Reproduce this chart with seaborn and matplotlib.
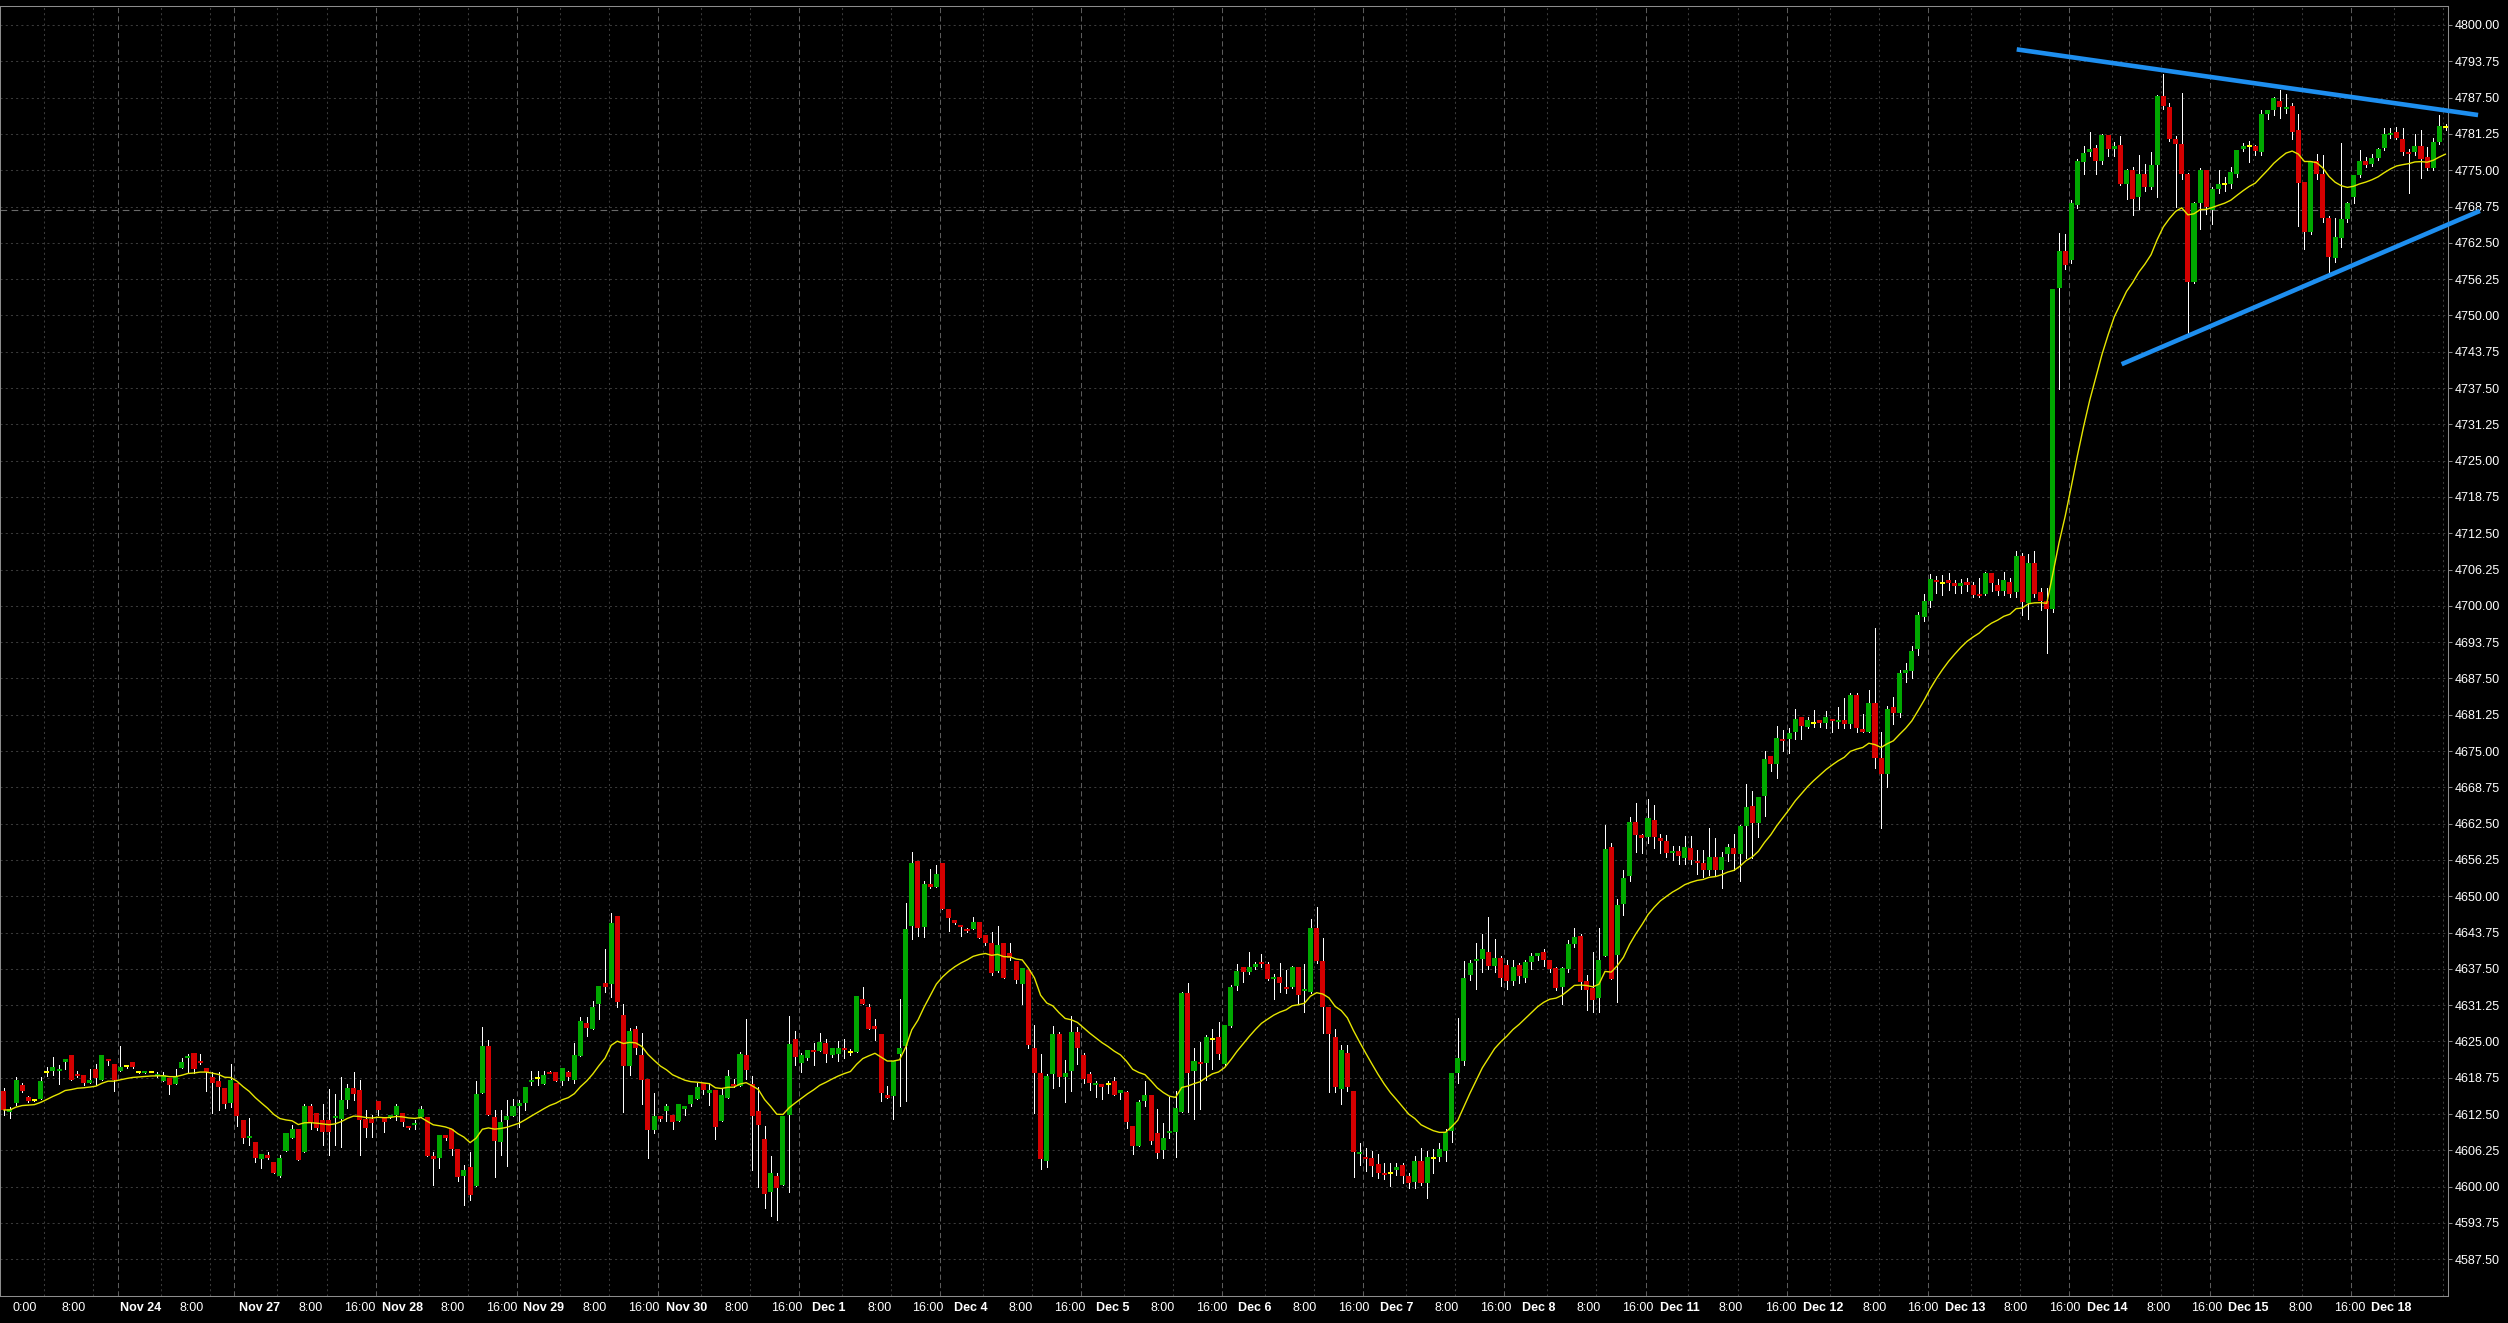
import numpy as np
import pandas as pd
import matplotlib
matplotlib.use("Agg")
import matplotlib.pyplot as plt
import seaborn as sns

# hourly candles (oldest first)
opens = [
    4616.5, 4612.8, 4614.4, 4617.5, 4615.4, 4614.9, 4615.1, 4619.75, 4619.9, 4619.9,
    4621.5, 4622.6, 4619.35, 4619.2, 4617.9, 4620.3, 4618.3, 4621.9, 4621.1, 4619.9,
    4620.7, 4621.4, 4619.75, 4619.7, 4619.75, 4619.0, 4618.2, 4618.7, 4617.7, 4620.4,
    4622.15, 4622.95, 4621.6, 4620.4, 4618.8, 4618.2, 4617.0, 4614.4, 4617.8, 4611.5,
    4608.3, 4607.7, 4604.7, 4605.5, 4604.25, 4601.9, 4606.15, 4608.4, 4609.9, 4606.0,
    4613.9, 4612.7, 4611.5, 4611.5, 4611.8, 4611.6, 4614.9, 4616.95, 4616.6, 4611.6,
    4611.6, 4614.7, 4612.0, 4612.0, 4612.3, 4612.7, 4610.4, 4610.6, 4612.0, 4612.0,
    4605.2, 4605.0, 4608.9, 4609.9, 4606.5, 4601.9, 4603.4, 4600.1, 4616.15, 4624.2,
    4612.0, 4607.75, 4611.5, 4612.2, 4613.9, 4614.4, 4618.05, 4618.7, 4617.7, 4619.75,
    4619.75, 4618.2, 4619.75, 4618.45, 4622.5, 4628.1, 4627.1, 4631.4, 4635.0, 4634.85,
    4646.6, 4629.5, 4620.8, 4627.1, 4622.6, 4618.5, 4609.7, 4612.1, 4613.0, 4612.4,
    4611.3, 4613.3, 4614.3, 4615.1, 4617.9, 4616.1, 4616.6, 4611.3, 4615.25, 4617.7,
    4617.3, 4622.6, 4617.7, 4613.0, 4608.2, 4599.05, 4601.9, 4600.3, 4612.3, 4625.4,
    4621.35, 4622.1, 4623.5, 4623.35, 4624.8, 4622.7, 4622.8, 4623.8, 4623.2, 4623.2,
    4632.3, 4630.95, 4627.6, 4626.25, 4615.7, 4615.6, 4622.8, 4624.3, 4644.9, 4656.05,
    4644.7, 4652.0, 4651.6, 4655.7, 4647.8, 4645.9, 4645.0, 4644.3, 4644.3, 4645.5,
    4643.3, 4642.0, 4637.1, 4641.9, 4640.3, 4638.9, 4634.9, 4637.3, 4623.9, 4619.6,
    4604.5, 4619.35, 4626.3, 4618.9, 4619.9, 4626.6, 4622.6, 4619.35, 4617.7, 4617.75,
    4617.7, 4618.25, 4616.1, 4616.25, 4610.5, 4607.0, 4614.7, 4615.8, 4609.2, 4606.3,
    4609.2, 4609.5, 4612.8, 4633.4, 4620.0, 4621.55, 4621.3, 4625.5, 4625.7, 4621.2,
    4627.7, 4634.6, 4637.8, 4636.9, 4637.8, 4638.75, 4638.4, 4635.7, 4636.1, 4634.4,
    4634.4, 4637.8, 4633.7, 4633.6, 4644.5, 4638.9, 4630.95, 4625.7, 4616.8, 4623.0,
    4616.5, 4605.6, 4605.1, 4605.0, 4603.95, 4602.3, 4602.3, 4602.9, 4603.8, 4601.8,
    4600.8, 4604.5, 4600.55, 4605.0, 4605.1, 4606.15, 4609.6, 4619.6, 4621.7, 4636.4,
    4638.8, 4639.15, 4640.35, 4638.0, 4639.3, 4638.1, 4635.4, 4638.1, 4635.9, 4638.7,
    4639.8, 4640.35, 4639.0, 4637.6, 4634.3, 4637.4, 4641.7, 4643.1, 4635.4, 4634.2,
    4632.5, 4639.7, 4658.4, 4639.9, 4648.75, 4653.5, 4662.8, 4660.5, 4660.25, 4663.2,
    4660.0, 4659.5, 4657.5, 4657.8, 4656.6, 4658.35, 4656.0, 4655.75, 4654.5, 4656.8,
    4654.5, 4657.2, 4658.3, 4657.2, 4662.1, 4665.5, 4662.65, 4667.25, 4674.1, 4672.8,
    4677.1, 4677.0, 4678.2, 4680.85, 4679.2, 4679.8, 4680.3, 4679.9, 4680.5, 4680.0,
    4680.3, 4679.7, 4684.65, 4678.8, 4678.35, 4683.3, 4673.85, 4671.1, 4682.6, 4681.6,
    4688.4, 4688.7, 4692.5, 4698.1, 4700.8, 4704.4, 4703.9, 4704.4, 4703.9, 4703.5,
    4704.05, 4703.55, 4702.05, 4702.1, 4705.6, 4703.55, 4702.6, 4704.05, 4702.3, 4708.5,
    4700.45, 4707.3, 4702.4, 4700.8, 4699.4, 4754.7, 4761.1, 4759.6, 4769.0, 4776.45,
    4778.1, 4778.75, 4776.5, 4781.05, 4778.7, 4779.3, 4772.7, 4775.0, 4770.4, 4774.4,
    4772.1, 4775.85, 4787.7, 4785.8, 4780.45, 4779.5, 4774.3, 4755.8, 4769.3, 4775.0,
    4768.2, 4771.7, 4772.7, 4772.6, 4774.4, 4778.7, 4779.2, 4779.1, 4778.15, 4784.6,
    4785.4, 4787.0, 4785.5, 4786.0, 4781.9, 4772.9, 4764.4, 4776.55, 4774.3, 4766.8,
    4759.9, 4763.4, 4766.6, 4770.4, 4774.1, 4776.55, 4776.15, 4777.1, 4778.8, 4781.0,
    4781.6, 4780.3, 4778.2, 4778.1, 4779.1, 4777.3, 4775.45, 4779.9, 4782.45,
]
highs = [
    4617.0, 4613.75, 4618.8, 4617.9, 4615.6, 4615.1, 4618.8, 4620.6, 4622.4, 4620.9,
    4621.9, 4622.6, 4619.9, 4619.2, 4620.3, 4621.2, 4622.6, 4621.9, 4621.1, 4624.2,
    4620.9, 4621.4, 4619.9, 4619.9, 4619.8, 4619.75, 4619.75, 4618.7, 4620.3, 4622.2,
    4622.9, 4622.95, 4622.9, 4620.4, 4619.75, 4619.75, 4617.0, 4621.1, 4617.8, 4611.5,
    4611.9, 4607.7, 4605.6, 4606.0, 4604.25, 4605.5, 4609.2, 4610.6, 4609.9, 4614.2,
    4614.2, 4612.7, 4614.3, 4616.9, 4616.0, 4618.8, 4617.6, 4619.75, 4618.3, 4613.2,
    4612.3, 4614.7, 4612.0, 4612.3, 4614.2, 4612.7, 4610.4, 4611.5, 4613.9, 4612.0,
    4606.0, 4608.9, 4608.9, 4609.9, 4606.5, 4603.7, 4606.0, 4618.2, 4627.5, 4625.2,
    4613.2, 4613.2, 4614.9, 4615.1, 4615.0, 4617.1, 4619.9, 4619.9, 4619.9, 4620.0,
    4619.75, 4620.4, 4619.9, 4624.7, 4629.2, 4629.2, 4632.0, 4634.5, 4640.9, 4647.1,
    4646.6, 4631.4, 4627.3, 4627.7, 4626.5, 4618.5, 4616.05, 4612.1, 4614.2, 4612.4,
    4614.3, 4613.9, 4615.7, 4617.9, 4617.9, 4617.9, 4616.6, 4617.0, 4620.1, 4618.5,
    4623.2, 4628.9, 4619.05, 4617.15, 4610.4, 4605.3, 4602.3, 4612.1, 4629.4, 4626.75,
    4623.1, 4623.5, 4624.8, 4626.5, 4625.4, 4623.9, 4625.1, 4625.4, 4623.7, 4632.8,
    4634.3, 4631.4, 4628.9, 4626.25, 4617.3, 4621.6, 4632.3, 4648.9, 4657.55, 4656.05,
    4652.7, 4654.7, 4655.3, 4655.7, 4647.8, 4645.9, 4645.0, 4644.5, 4646.4, 4645.5,
    4643.3, 4643.8, 4644.8, 4641.9, 4641.9, 4638.9, 4637.6, 4637.3, 4627.8, 4622.9,
    4619.4, 4627.7, 4626.6, 4621.8, 4629.4, 4627.5, 4623.0, 4619.7, 4618.25, 4617.75,
    4618.25, 4618.8, 4616.7, 4616.5, 4610.5, 4615.0, 4618.25, 4615.8, 4613.3, 4611.05,
    4615.4, 4616.5, 4633.6, 4635.1, 4623.9, 4624.9, 4626.1, 4627.2, 4628.4, 4627.8,
    4634.7, 4638.3, 4637.8, 4640.4, 4638.6, 4640.1, 4638.6, 4636.7, 4638.45, 4637.3,
    4638.0, 4637.9, 4638.3, 4646.1, 4648.2, 4642.9, 4631.0, 4627.2, 4624.4, 4624.4,
    4616.5, 4607.45, 4606.6, 4606.15, 4605.6, 4604.1, 4604.1, 4604.1, 4604.1, 4602.4,
    4605.3, 4606.7, 4606.15, 4606.45, 4607.6, 4609.9, 4619.5, 4629.05, 4638.85, 4639.1,
    4641.95, 4643.5, 4646.5, 4642.6, 4639.7, 4639.1, 4639.1, 4638.5, 4639.0, 4640.25,
    4640.3, 4640.9, 4639.0, 4637.8, 4637.9, 4642.5, 4644.5, 4643.5, 4636.5, 4640.35,
    4644.6, 4662.3, 4659.1, 4649.6, 4654.5, 4663.6, 4666.0, 4660.8, 4666.7, 4665.7,
    4660.8, 4660.5, 4658.6, 4658.6, 4660.3, 4660.35, 4658.05, 4658.05, 4661.8, 4660.05,
    4657.65, 4659.0, 4660.75, 4662.35, 4669.4, 4668.1, 4667.1, 4675.0, 4674.1, 4679.3,
    4678.55, 4678.9, 4682.3, 4680.85, 4680.85, 4682.0, 4680.3, 4681.9, 4680.5, 4682.6,
    4684.2, 4685.0, 4685.0, 4681.4, 4685.5, 4696.1, 4678.3, 4682.75, 4684.3, 4689.0,
    4690.2, 4693.1, 4698.9, 4702.0, 4705.5, 4705.1, 4705.35, 4705.6, 4704.4, 4704.6,
    4704.8, 4704.05, 4704.8, 4705.85, 4705.6, 4704.6, 4705.85, 4704.8, 4709.5, 4709.1,
    4708.95, 4709.5, 4703.0, 4703.0, 4754.5, 4764.25, 4764.0, 4769.8, 4776.9, 4779.2,
    4781.5, 4779.3, 4781.2, 4781.05, 4779.9, 4780.85, 4775.2, 4775.6, 4777.6, 4776.15,
    4778.15, 4787.9, 4791.6, 4786.5, 4780.9, 4788.3, 4774.5, 4769.5, 4775.45, 4775.0,
    4772.1, 4775.0, 4773.85, 4775.6, 4778.55, 4779.6, 4780.0, 4779.3, 4785.3, 4785.4,
    4787.6, 4788.75, 4788.1, 4786.5, 4784.75, 4772.9, 4776.55, 4777.75, 4777.6, 4767.2,
    4766.7, 4779.6, 4769.6, 4774.1, 4778.4, 4777.3, 4777.75, 4778.8, 4782.2, 4782.2,
    4782.45, 4782.2, 4778.7, 4781.3, 4782.0, 4779.0, 4780.6, 4784.5, 4783.0,
]
lows = [
    4612.3, 4611.9, 4614.0, 4616.3, 4614.6, 4614.7, 4615.1, 4619.0, 4619.2, 4617.6,
    4620.3, 4618.3, 4618.8, 4617.5, 4617.9, 4617.5, 4618.3, 4620.9, 4616.5, 4619.9,
    4620.5, 4620.5, 4619.6, 4619.6, 4619.7, 4618.8, 4618.2, 4615.9, 4617.7, 4620.4,
    4619.5, 4619.5, 4621.2, 4616.5, 4612.6, 4613.2, 4613.6, 4613.75, 4610.5, 4607.6,
    4607.2, 4604.3, 4603.2, 4604.8, 4602.4, 4601.6, 4606.15, 4608.4, 4604.6, 4606.0,
    4609.9, 4609.75, 4607.2, 4605.5, 4607.2, 4606.9, 4613.6, 4614.9, 4605.5, 4608.6,
    4608.6, 4612.3, 4609.5, 4611.8, 4611.5, 4610.4, 4610.0, 4610.0, 4612.0, 4605.2,
    4600.3, 4603.3, 4608.0, 4605.5, 4600.9, 4596.8, 4597.7, 4600.1, 4616.15, 4612.3,
    4601.7, 4605.4, 4603.6, 4612.2, 4610.3, 4613.2, 4617.5, 4617.5, 4617.7, 4619.5,
    4618.2, 4617.5, 4618.4, 4617.9, 4622.5, 4625.9, 4627.1, 4628.9, 4633.5, 4632.7,
    4631.0, 4612.8, 4619.2, 4622.9, 4614.2, 4605.0, 4609.3, 4611.3, 4611.3, 4610.0,
    4611.3, 4612.3, 4613.9, 4615.1, 4615.9, 4614.0, 4608.2, 4611.3, 4615.25, 4617.2,
    4617.3, 4618.5, 4602.8, 4599.9, 4596.4, 4594.9, 4594.3, 4600.3, 4599.0, 4620.9,
    4619.8, 4621.8, 4620.9, 4623.35, 4621.5, 4622.4, 4621.6, 4622.2, 4622.7, 4623.2,
    4631.4, 4627.1, 4625.25, 4614.7, 4615.25, 4611.7, 4613.9, 4614.7, 4642.7, 4643.2,
    4643.0, 4651.5, 4651.6, 4647.8, 4644.05, 4645.2, 4643.2, 4643.8, 4644.3, 4642.8,
    4641.6, 4636.5, 4636.9, 4635.9, 4639.0, 4635.0, 4631.4, 4623.9, 4612.7, 4603.1,
    4603.4, 4617.05, 4617.3, 4614.6, 4616.5, 4621.1, 4617.9, 4616.65, 4615.4, 4615.1,
    4616.1, 4615.7, 4615.1, 4610.1, 4605.6, 4607.0, 4613.9, 4607.3, 4605.0, 4604.9,
    4608.45, 4605.1, 4612.8, 4612.8, 4611.6, 4613.4, 4618.3, 4620.2, 4622.0, 4620.8,
    4627.5, 4633.8, 4635.3, 4636.6, 4637.5, 4637.8, 4635.5, 4632.3, 4633.6, 4633.4,
    4634.2, 4631.4, 4630.0, 4633.4, 4638.5, 4626.5, 4616.25, 4616.25, 4614.2, 4616.5,
    4601.6, 4603.8, 4602.7, 4601.8, 4601.5, 4601.25, 4600.1, 4602.0, 4600.7, 4599.8,
    4599.8, 4600.3, 4598.1, 4602.4, 4604.4, 4604.4, 4607.7, 4617.85, 4620.9, 4635.5,
    4634.0, 4636.9, 4637.4, 4636.9, 4634.6, 4634.1, 4634.8, 4635.1, 4635.2, 4637.5,
    4639.0, 4638.0, 4636.9, 4633.8, 4631.4, 4636.9, 4641.3, 4634.05, 4630.4, 4630.0,
    4630.0, 4639.7, 4635.8, 4631.8, 4646.8, 4652.7, 4657.7, 4657.4, 4659.1, 4658.35,
    4657.4, 4656.8, 4656.2, 4655.6, 4655.5, 4655.6, 4653.85, 4653.35, 4653.7, 4653.7,
    4651.45, 4656.0, 4654.6, 4652.7, 4656.6, 4656.6, 4660.25, 4663.8, 4671.55, 4670.4,
    4675.0, 4674.7, 4677.0, 4677.0, 4678.9, 4679.1, 4679.1, 4679.0, 4678.2, 4679.0,
    4678.9, 4679.0, 4678.2, 4678.2, 4678.35, 4672.1, 4661.7, 4668.85, 4679.6, 4680.9,
    4686.9, 4687.6, 4691.5, 4697.4, 4699.75, 4702.25, 4701.9, 4702.75, 4702.25, 4702.25,
    4702.6, 4701.5, 4701.5, 4701.9, 4702.6, 4701.9, 4701.9, 4701.5, 4701.5, 4698.4,
    4697.7, 4701.5, 4699.2, 4691.8, 4699.0, 4737.4, 4758.0, 4759.0, 4768.5, 4774.4,
    4777.45, 4774.4, 4776.0, 4777.45, 4777.45, 4772.5, 4770.1, 4767.25, 4768.4, 4771.5,
    4771.8, 4770.4, 4785.5, 4780.0, 4768.7, 4773.5, 4746.8, 4755.5, 4764.8, 4767.5,
    4765.8, 4771.0, 4771.5, 4772.0, 4773.8, 4778.3, 4776.4, 4777.6, 4777.6, 4783.9,
    4784.5, 4784.05, 4784.9, 4780.45, 4765.4, 4761.5, 4764.1, 4773.5, 4766.1, 4757.5,
    4759.2, 4761.8, 4766.1, 4769.4, 4773.8, 4775.5, 4775.8, 4776.8, 4778.5, 4780.6,
    4780.3, 4777.6, 4771.0, 4777.7, 4773.7, 4775.0, 4775.0, 4779.5, 4782.0,
]
closes = [
    4613.2, 4613.35, 4618.3, 4616.5, 4614.8, 4614.9, 4618.2, 4619.75, 4620.55, 4620.3,
    4621.9, 4618.3, 4619.1, 4617.8, 4618.3, 4618.7, 4622.6, 4621.6, 4618.3, 4620.55,
    4620.7, 4620.55, 4619.75, 4619.85, 4619.75, 4619.35, 4619.2, 4617.5, 4618.9, 4621.5,
    4622.4, 4620.3, 4621.3, 4619.7, 4617.8, 4617.2, 4614.3, 4618.3, 4612.2, 4608.3,
    4608.7, 4605.0, 4605.6, 4605.0, 4602.4, 4604.95, 4609.2, 4609.9, 4604.6, 4613.9,
    4611.2, 4610.1, 4609.5, 4609.5, 4612.15, 4614.9, 4616.95, 4616.0, 4611.5, 4610.15,
    4611.0, 4613.2, 4611.1, 4612.3, 4613.9, 4611.2, 4610.15, 4611.0, 4613.35, 4605.2,
    4604.8, 4608.9, 4608.3, 4606.55, 4601.6, 4602.9, 4598.5, 4615.9, 4624.3, 4612.3,
    4607.9, 4611.1, 4612.15, 4613.9, 4614.4, 4617.1, 4618.3, 4618.7, 4619.2, 4619.5,
    4618.2, 4620.4, 4618.8, 4622.6, 4628.6, 4627.4, 4630.85, 4634.5, 4634.4, 4645.4,
    4631.8, 4620.8, 4626.75, 4623.9, 4618.35, 4609.7, 4612.1, 4611.6, 4613.9, 4611.1,
    4614.3, 4613.9, 4615.7, 4617.15, 4616.6, 4616.6, 4610.3, 4615.7, 4619.05, 4617.4,
    4622.8, 4620.1, 4612.15, 4610.7, 4598.7, 4602.4, 4599.8, 4612.1, 4624.5, 4622.3,
    4622.6, 4623.5, 4623.2, 4624.95, 4622.8, 4623.9, 4623.9, 4623.55, 4623.2, 4632.8,
    4631.4, 4627.1, 4627.1, 4616.05, 4615.25, 4621.6, 4623.9, 4644.3, 4655.7, 4644.45,
    4652.1, 4651.7, 4653.8, 4647.8, 4646.2, 4645.4, 4644.7, 4644.05, 4645.5, 4642.8,
    4642.0, 4636.75, 4641.6, 4635.9, 4639.3, 4635.6, 4637.6, 4624.4, 4619.6, 4604.7,
    4619.0, 4626.3, 4618.9, 4619.5, 4626.6, 4623.9, 4618.55, 4617.8, 4617.75, 4617.1,
    4617.7, 4615.8, 4616.7, 4611.15, 4607.0, 4614.5, 4615.8, 4607.9, 4605.75, 4608.45,
    4609.55, 4613.5, 4633.3, 4619.6, 4621.7, 4621.15, 4625.7, 4625.5, 4622.8, 4627.8,
    4634.4, 4637.1, 4636.9, 4637.9, 4638.4, 4638.3, 4635.7, 4636.1, 4635.05, 4634.1,
    4637.8, 4633.0, 4634.1, 4644.5, 4638.9, 4630.95, 4626.3, 4617.1, 4623.5, 4617.1,
    4606.0, 4606.05, 4604.9, 4603.6, 4602.3, 4601.95, 4602.3, 4603.45, 4601.8, 4600.55,
    4604.5, 4600.55, 4605.1, 4605.0, 4606.55, 4609.45, 4619.5, 4622.1, 4635.95, 4638.45,
    4639.1, 4640.9, 4638.0, 4639.3, 4635.9, 4635.4, 4637.9, 4636.3, 4638.6, 4639.8,
    4640.3, 4639.0, 4637.4, 4634.2, 4637.6, 4641.7, 4642.95, 4635.25, 4633.9, 4632.2,
    4639.1, 4658.1, 4635.8, 4648.5, 4653.2, 4662.8, 4660.5, 4660.1, 4663.4, 4660.2,
    4659.5, 4657.5, 4657.8, 4657.0, 4658.45, 4656.3, 4655.75, 4654.5, 4656.8, 4654.5,
    4656.8, 4658.5, 4657.2, 4662.1, 4665.35, 4662.65, 4667.1, 4673.7, 4672.8, 4677.3,
    4676.85, 4678.1, 4680.5, 4679.3, 4680.3, 4679.8, 4679.9, 4680.8, 4680.1, 4680.3,
    4679.7, 4684.65, 4678.9, 4678.35, 4683.3, 4673.85, 4671.0, 4682.3, 4681.6, 4688.4,
    4688.9, 4692.2, 4698.4, 4700.8, 4704.6, 4704.05, 4703.9, 4704.0, 4703.5, 4703.9,
    4703.6, 4701.9, 4701.75, 4705.6, 4703.9, 4702.5, 4704.4, 4702.1, 4708.5, 4700.6,
    4707.3, 4702.1, 4700.8, 4699.4, 4754.5, 4761.1, 4758.65, 4769.3, 4776.5, 4778.0,
    4778.6, 4776.5, 4781.05, 4778.7, 4779.2, 4772.7, 4775.0, 4770.1, 4774.4, 4772.1,
    4775.85, 4787.7, 4786.0, 4780.45, 4779.5, 4774.4, 4755.8, 4769.3, 4775.0, 4768.7,
    4771.7, 4772.6, 4772.7, 4774.7, 4778.55, 4779.1, 4779.2, 4778.3, 4784.6, 4785.4,
    4787.4, 4785.9, 4785.9, 4781.6, 4772.8, 4764.4, 4776.55, 4774.3, 4766.8, 4760.0,
    4763.5, 4766.6, 4769.3, 4774.1, 4776.55, 4775.9, 4777.1, 4778.7, 4781.3, 4781.3,
    4780.6, 4778.1, 4777.8, 4779.25, 4777.0, 4775.45, 4779.9, 4782.6, 4782.45,
]

# first bar of each trading day (bar index)
day_starts = [0, 19, 38, 61, 84, 107, 130, 153, 176, 199, 222, 245, 268, 291, 314, 337, 360, 383]

time_labels = [
    "0:00", "8:00", "Nov 24", "8:00", "Nov 27", "8:00", "16:00", "Nov 28", "8:00", "16:00",
    "Nov 29", "8:00", "16:00", "Nov 30", "8:00", "16:00", "Dec 1", "8:00", "16:00", "Dec 4",
    "8:00", "16:00", "Dec 5", "8:00", "16:00", "Dec 6", "8:00", "16:00", "Dec 7", "8:00",
    "16:00", "Dec 8", "8:00", "16:00", "Dec 11", "8:00", "16:00", "Dec 12", "8:00", "16:00",
    "Dec 13", "8:00", "16:00", "Dec 14", "8:00", "16:00", "Dec 15", "8:00", "16:00", "Dec 18",
]
label_pos = [
    1.4, 9.4, 19.0, 28.7, 38.4, 48.0, 55.5, 61.6, 71.2, 78.6,
    84.7, 94.4, 101.8, 107.9, 117.5, 125.0, 131.8, 140.7, 148.0, 154.9,
    163.8, 171.2, 178.0, 186.9, 194.3, 201.1, 210.0, 217.5, 224.3, 233.2,
    240.7, 247.5, 256.3, 263.8, 270.0, 279.5, 287.1, 293.2, 302.9, 310.2,
    316.4, 326.0, 333.4, 339.5, 349.2, 356.5, 362.6, 372.4, 379.8, 385.8,
]

# hand-drawn triangle lines (bar, price) and the horizontal price line
upper_line = ([328.1, 403.3], [4795.8, 4784.5])
lower_line = ([345.2, 403.6], [4741.6, 4768.0])
price_line = 4768.15

o = np.array(opens)
h = np.array(highs)
l = np.array(lows)
c = np.array(closes)
x = np.arange(len(c))

h = np.maximum(h, np.maximum(o, c))
l = np.minimum(l, np.minimum(o, c))

# 20-period exponential moving average of the close
ma = pd.Series(c).ewm(span=20, adjust=False).mean().to_numpy()

sns.set_style("dark", {"axes.facecolor": "black", "figure.facecolor": "black"})
plt.rcParams['font.family'] = ['Liberation Sans', 'DejaVu Sans']

fig = plt.figure(figsize=(25.08, 13.23), dpi=100, facecolor="black")
ax = fig.add_axes([0, 27 / 1323, 2448 / 2508, 1290 / 1323])
ax.set_facecolor("black")

grid_col = "#3a3a3a"
for d in day_starts:
    for off in (6.6, 14.6):
        ax.axvline(d + off, color=grid_col, linestyle=(0, (2, 3)), linewidth=0.75, zorder=1)
    if d > 0:
        ax.axvline(d - 0.4, color="#5c5c5c", linestyle=(0, (5, 3)), linewidth=0.75, zorder=1)

ax.axhline(price_line, color="#6a6a6a", linestyle=(0, (6, 4)), linewidth=0.8, zorder=1)

# candles
ax.vlines(x, l, h, colors="white", linewidth=0.5, antialiased=False, zorder=3)
body_lo = np.minimum(o, c)
body_h = np.abs(c - o)
min_h = 0.35
small = body_h < min_h
body_lo = np.where(small, (o + c) / 2 - min_h / 2, body_lo)
body_h = np.where(small, min_h, body_h)
colors = np.where(c > o, "#00a800", np.where(c < o, "#d40000", "#ffff00"))
ax.bar(x, body_h, bottom=body_lo, width=0.82, color=colors, linewidth=0, zorder=4)

sns.lineplot(x=x, y=ma, ax=ax, color="#e6e600", linewidth=1.0, zorder=5)

for xs, ys in (upper_line, lower_line):
    ax.plot(xs, ys, color="#1e8ff0", linewidth=3.3, solid_capstyle="butt",
            clip_on=False, zorder=6)

ax.set_xlim(-0.62, 398.4)
ax.set_ylim(4581.18, 4803.27)

price_ticks = np.arange(4587.5, 4800.01, 6.25)
ax.yaxis.tick_right()
ax.set_yticks(price_ticks)
ax.set_yticklabels([f"{p:.2f}" for p in price_ticks])
ax.yaxis.grid(True, color=grid_col, linestyle=(0, (2, 3)), linewidth=0.75)
ax.xaxis.grid(False)
ax.set_axisbelow(True)
ax.tick_params(axis="y", which="both", right=True, left=False, length=3, width=0.75,
               color="#8c8c8c", labelcolor="white", labelsize=9, pad=1.5)

ax.set_xticks(label_pos)
ax.set_xticklabels(time_labels)
ax.tick_params(axis="x", length=0, labelcolor="white", labelsize=9, pad=4.5)
for lab in ax.get_xticklabels():
    lab.set_horizontalalignment("left")
    if not lab.get_text()[0].isdigit():
        lab.set_fontweight("bold")

ax.set_xlabel("")
ax.set_ylabel("")
for sp in ax.spines.values():
    sp.set_visible(True)
    sp.set_color("#8c8c8c")
    sp.set_linewidth(0.75)

fig.savefig("out.png", dpi=100, facecolor="black")
